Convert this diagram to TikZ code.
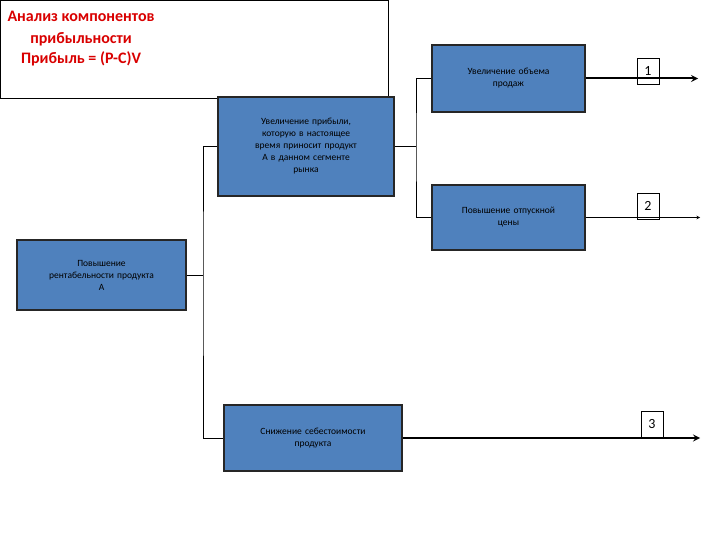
\documentclass[tikz,border=0pt]{standalone}
\usepackage{fontspec}
\setmainfont{Carlito}
\begin{document}
\begin{tikzpicture}[x=1pt,y=-1pt,
 bx/.style={draw=black!85,line width=1.6pt,fill=blue!35!black!0,fill={rgb,255:red,79;green,129;blue,189},align=center,font=\fontsize{9.5}{12}\selectfont,inner sep=2pt},
 num/.style={draw,fill=white,font=\fontsize{14}{16}\selectfont,minimum width=22pt,minimum height=26pt,inner sep=0pt},
 ln/.style={line width=0.6pt},
 thk/.style={line width=2pt}]
\useasboundingbox (0,0) rectangle (720,540);
\node[draw,fill=white,minimum width=388pt,minimum height=98pt,anchor=north west,line width=0.6pt] (t) at (0,0) {};
\node[anchor=north west,text=red!85!black,font=\fontsize{16}{22}\selectfont\bfseries,align=center] (tt) at (4,8) {Анализ компонентов\\прибыльности\\[-2pt]Прибыль = (P-C)V};
\node[bx,minimum width=176pt,minimum height=99pt,text width=170pt] (a) at (306,146.5) {Увеличение прибыли,\\ которую в настоящее\\ время  приносит продукт\\ А в данном сегменте\\ рынка};
\node[bx,minimum width=153pt,minimum height=67pt,text width=148pt] (b1) at (508.5,78.5) {Увеличение объема\\ продаж};
\node[bx,minimum width=153pt,minimum height=65pt,text width=148pt] (b2) at (508.5,217.5) {Повышение отпускной\\ цены};
\node[bx,minimum width=169pt,minimum height=70pt,text width=164pt] (l) at (101.5,275) {Повышение\\ рентабельности продукта\\ А};
\node[bx,minimum width=178pt,minimum height=66pt,text width=172pt] (c) at (313,438) {Снижение себестоимости\\ продукта};
\coordinate (j1) at (203,275);
\coordinate (j2) at (416,146.5);
\draw[ln] (l.east) -- (j1);
\draw[ln] (a.west) -| (j1) |- (c.west);
\draw[ln] (a.east) -- (j2);
\draw[ln] (b1.west) -| (j2) |- (b2.west);
\coordinate (e1) at (698,78.5);
\coordinate (e2) at (700,217.5);
\coordinate (e3) at (700,438);
\node[num] (n1) at (648,71) {1};
\node[num] (n2) at (648,206) {2};
\node[num] (n3) at (652,424) {3};
\draw[thk,-stealth] (b1.east) -- (e1);
\draw[ln,-stealth] (b2.east) -- (e2);
\draw[thk,-stealth] (c.east) -- (e3);
\end{tikzpicture}
\end{document}
